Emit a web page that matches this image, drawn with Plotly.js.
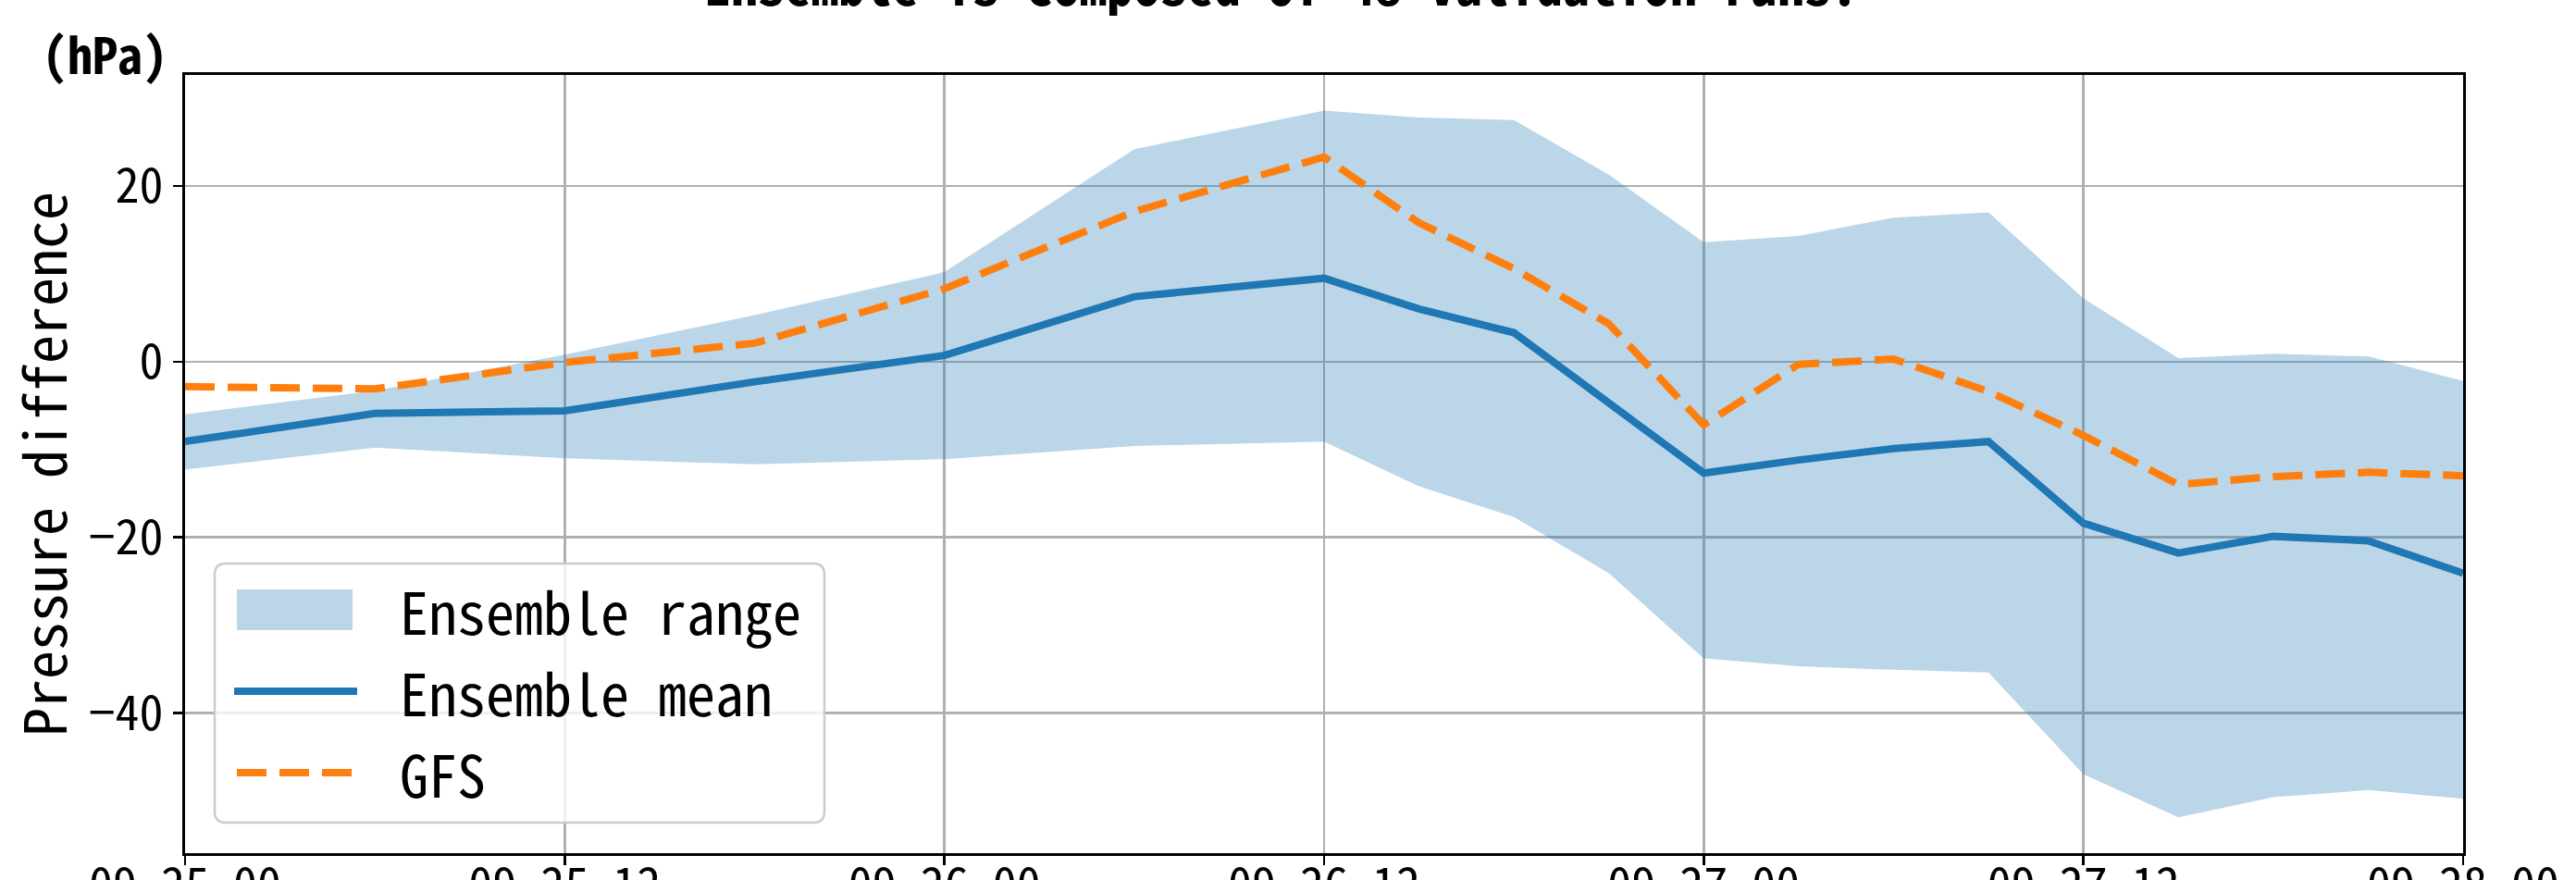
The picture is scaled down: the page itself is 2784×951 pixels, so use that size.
<!DOCTYPE html>
<html>
<head>
<meta charset="utf-8">
<script src="https://cdn.plot.ly/plotly-3.0.1.min.js"></script>
<style>
  html, body { margin: 0; padding: 0; background: #ffffff; }
  #chart { width: 2784px; height: 951px; }
</style>
</head>
<body>
<div id="chart"></div>
<script>
// ---- data ----
const times = [
  '2018-09-25 00:00', '2018-09-25 06:00', '2018-09-25 12:00', '2018-09-25 18:00',
  '2018-09-26 00:00', '2018-09-26 06:00', '2018-09-26 12:00', '2018-09-26 15:00',
  '2018-09-26 18:00', '2018-09-26 21:00', '2018-09-27 00:00', '2018-09-27 03:00',
  '2018-09-27 06:00', '2018-09-27 09:00', '2018-09-27 12:00', '2018-09-27 15:00',
  '2018-09-27 18:00', '2018-09-27 21:00', '2018-09-28 00:00'
];
const ensMax  = [-6.0, -3.3, 0.8, 5.3, 10.2, 24.2, 28.6, 27.8, 27.5, 21.3, 13.6, 14.3, 16.4, 17.0, 7.2, 0.4, 0.9, 0.6, -2.2];
const ensMin  = [-12.3, -9.8, -11.0, -11.7, -11.1, -9.6, -9.1, -14.2, -17.7, -24.1, -33.8, -34.7, -35.1, -35.4, -47.0, -51.9, -49.6, -48.8, -49.8];
const ensMean = [-9.1, -5.9, -5.6, -2.3, 0.7, 7.4, 9.5, 6.0, 3.3, -4.7, -12.7, -11.2, -9.9, -9.1, -18.4, -21.8, -19.9, -20.4, -24.1];
const gfs     = [-2.85, -3.1, -0.1, 2.1, 8.3, 17.1, 23.3, 15.8, 10.6, 4.3, -7.2, -0.3, 0.3, -3.4, -8.4, -14.0, -13.1, -12.6, -13.0];

const legendLabels = ['Ensemble range', 'Ensemble mean', 'GFS'];
const yTickVals = [-40, -20, 0, 20];
const titleText = 'Ensemble is composed of 48 validation runs.';
const unitText = '(hPa)';
const yTitleText = 'Pressure difference';

// ---- style ----
const C_BAND = 'rgba(31,119,180,0.3)';
const C_MEAN = '#1f77b4';
const C_GFS = '#ff7f0e';
const FONT = '"Noto Sans Mono CJK JP", "Noto Sans CJK JP", "DejaVu Sans Mono", monospace';

const W = 2784, Hgt = 951;
const M = {l: 200, r: 122, t: 81, b: 29};
const PW = W - M.l - M.r, PH = Hgt - M.t - M.b;
const px2x = p => (p - M.l) / PW;
const py2y = p => (Hgt - M.b - p) / PH;

const traces = [
  {x: times, y: ensMin, type: 'scatter', mode: 'lines', line: {width: 0, color: C_BAND},
   hoverinfo: 'skip', showlegend: false},
  {x: times, y: ensMax, type: 'scatter', mode: 'lines', fill: 'tonexty', fillcolor: C_BAND,
   line: {width: 0, color: C_BAND}, name: legendLabels[0], showlegend: false},
  {x: times, y: ensMean, type: 'scatter', mode: 'lines', line: {width: 8, color: C_MEAN},
   name: legendLabels[1], showlegend: false},
  {x: times, y: gfs, type: 'scatter', mode: 'lines', line: {width: 8, color: C_GFS, dash: '32px,14px'},
   name: legendLabels[2], showlegend: false}
];

// ---- manual legend (matplotlib style) ----
const lx0 = px2x(232), lx1 = px2x(891), lyTop = py2y(609), lyBot = py2y(889);
const rx = 12 / PW, ry = 12 / PH;
const boxPath = `M ${lx0+rx},${lyTop} L ${lx1-rx},${lyTop} Q ${lx1},${lyTop} ${lx1},${lyTop-ry} ` +
  `L ${lx1},${lyBot+ry} Q ${lx1},${lyBot} ${lx1-rx},${lyBot} L ${lx0+rx},${lyBot} ` +
  `Q ${lx0},${lyBot} ${lx0},${lyBot+ry} L ${lx0},${lyTop-ry} Q ${lx0},${lyTop} ${lx0+rx},${lyTop} Z`;

const rowY = [659, 747, 835];
const shapes = [
  {type: 'path', xref: 'paper', yref: 'paper', path: boxPath,
   fillcolor: 'rgba(255,255,255,0.8)', line: {color: '#cccccc', width: 2.5}},
  {type: 'rect', xref: 'paper', yref: 'paper', x0: px2x(256), x1: px2x(381),
   y0: py2y(rowY[0] - 22), y1: py2y(rowY[0] + 22), fillcolor: C_BAND, line: {width: 0}},
  {type: 'line', xref: 'paper', yref: 'paper', x0: px2x(253), x1: px2x(386),
   y0: py2y(rowY[1]), y1: py2y(rowY[1]), line: {color: C_MEAN, width: 8}},
  {type: 'line', xref: 'paper', yref: 'paper', x0: px2x(256), x1: px2x(380),
   y0: py2y(rowY[2]), y1: py2y(rowY[2]), line: {color: C_GFS, width: 8, dash: '32px,14px'}}
];

const annotations = legendLabels.map((t, i) => ({
  text: t, xref: 'paper', yref: 'paper', x: px2x(430), y: py2y(rowY[i]),
  xanchor: 'left', yanchor: 'middle', showarrow: false,
  font: {family: FONT, size: 62, color: '#000000'}
}));
annotations.push({
  text: '<b>' + titleText + '</b>', xref: 'paper', yref: 'paper', x: px2x(1384), y: py2y(25),
  xanchor: 'center', yanchor: 'bottom', showarrow: false,
  font: {family: FONT, size: 58, color: '#000000'}
});
annotations.push({
  text: '<b>' + unitText + '</b>', xref: 'paper', yref: 'paper', x: px2x(113), y: py2y(57),
  xanchor: 'center', yanchor: 'middle', showarrow: false,
  font: {family: FONT, size: 54, color: '#000000'}
});

const xRange = ['2018-09-25 00:00', '2018-09-28 00:00'];
const xDtick = 12 * 3600 * 1000;

const layout = {
  width: W, height: Hgt,
  margin: M,
  paper_bgcolor: '#ffffff', plot_bgcolor: '#ffffff',
  showlegend: false,
  font: {family: FONT, color: '#000000'},
  xaxis: {
    type: 'date',
    range: xRange,
    tick0: xRange[0], dtick: xDtick,
    showticklabels: false,
    ticks: 'outside', ticklen: 10, tickwidth: 2.5, tickcolor: '#000000',
    showline: true, linecolor: '#000000', linewidth: 3, mirror: true,
    showgrid: true, gridcolor: '#b0b0b0', gridwidth: 2.5, zeroline: false
  },
  xaxis2: {
    type: 'date', overlaying: 'x', matches: 'x', anchor: 'free', position: 0, side: 'bottom',
    range: xRange, tick0: xRange[0], dtick: xDtick,
    tickformat: '%m-%d %H',
    tickfont: {family: FONT, size: 52, color: '#000000'},
    ticks: '', showticklabels: true, showgrid: false, showline: false, zeroline: false
  },
  yaxis: {
    range: [-55.98, 32.65],
    tickvals: yTickVals,
    tickfont: {family: FONT, size: 52, color: '#000000'},
    ticks: 'outside', ticklen: 10, tickwidth: 2.5, tickcolor: '#000000',
    showline: true, linecolor: '#000000', linewidth: 3, mirror: true,
    showgrid: true, gridcolor: '#b0b0b0', gridwidth: 2.5, zeroline: false,
    title: {text: yTitleText, font: {family: FONT, size: 62, color: '#000000'}, standoff: 14}
  },
  shapes: shapes,
  annotations: annotations
};

// empty overlay trace so the label axis (xaxis2) is drawn
traces.push({x: [xRange[0]], y: [null], xaxis: 'x2', yaxis: 'y', type: 'scatter', mode: 'lines',
  showlegend: false, hoverinfo: 'skip'});

Plotly.newPlot('chart', traces, layout, {staticPlot: true, displayModeBar: false});
</script>
</body>
</html>
